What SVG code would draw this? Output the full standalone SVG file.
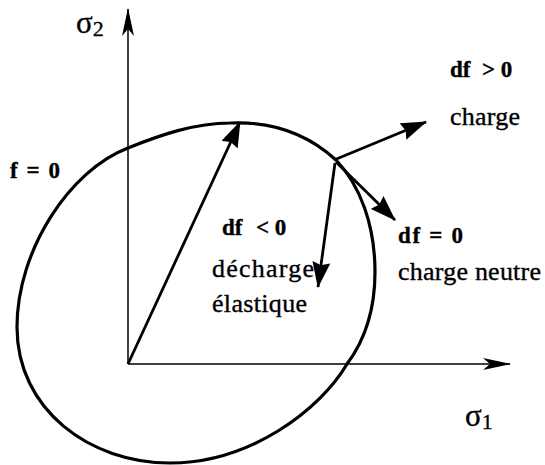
<svg xmlns="http://www.w3.org/2000/svg" width="545" height="465" viewBox="0 0 545 465">
<style>
.t{font-family:"Liberation Serif","Times New Roman",serif;fill:#000;stroke:#000;stroke-width:0.35}
.b{font-weight:bold}
.ax{stroke:#000;stroke-width:1.5;fill:none}
.v{stroke:#000;stroke-width:2.8;fill:none}
</style>
<defs>
<marker id="ah" viewBox="0 0 26 18" refX="25" refY="9" markerWidth="26" markerHeight="18" markerUnits="userSpaceOnUse" orient="auto">
<path d="M0,0 L26,9 L0,18 L3,9 Z" fill="#000"/>
</marker>
<marker id="axh" viewBox="0 0 28 12" refX="27" refY="6" markerWidth="28" markerHeight="12" markerUnits="userSpaceOnUse" orient="auto">
<path d="M0,0 L28,6 L0,12 L7,6 Z" fill="#000"/>
</marker>
</defs>
<g id="axes">
<line class="ax" x1="128" y1="364" x2="128" y2="9" marker-end="url(#axh)"/>
<line class="ax" x1="128" y1="364" x2="510" y2="364" marker-end="url(#axh)"/>
</g>
<g id="yield-surface">
<path d="M230,123 C275,121 310,136 336,160 C360,185 375,225 375,272 C375,310 365,340 347,364 C320,410 250,463 170,463 C90,463 17,410 17,327 C17,250 70,170 128,148 C160,135 195,123 230,123 Z" fill="none" stroke="#000" stroke-width="3.2"/>
</g>
<g id="connectors">
<line class="v" x1="128" y1="364" x2="240" y2="122" marker-end="url(#ah)"/>
<line class="v" x1="334" y1="160" x2="426" y2="122" marker-end="url(#ah)"/>
<line class="v" x1="336" y1="162" x2="395" y2="220" marker-end="url(#ah)"/>
<line class="v" x1="335" y1="163" x2="318" y2="287" marker-end="url(#ah)"/>
</g>
<g id="labels">
<text class="t" x="76" y="33" font-size="31">σ<tspan font-size="22" dy="3">2</tspan></text>
<text class="t" x="465" y="426" font-size="31">σ<tspan font-size="22" dy="3">1</tspan></text>
<text class="t b" x="10" y="178" font-size="23" textLength="50">f = 0</text>
<text class="t b" x="450" y="77" font-size="23"><tspan>df</tspan><tspan x="482">&gt; 0</tspan></text>
<text class="t" x="450" y="125" font-size="26" textLength="70">charge</text>
<text class="t b" x="222" y="235" font-size="23"><tspan>df</tspan><tspan x="256">&lt; 0</tspan></text>
<text class="t" x="212" y="277" font-size="26" textLength="102">décharge</text>
<text class="t" x="212" y="312" font-size="26" textLength="95">élastique</text>
<text class="t b" x="398" y="243" font-size="23" textLength="65">df = 0</text>
<text class="t" x="398" y="280" font-size="26" textLength="143">charge neutre</text>
</g>
</svg>
